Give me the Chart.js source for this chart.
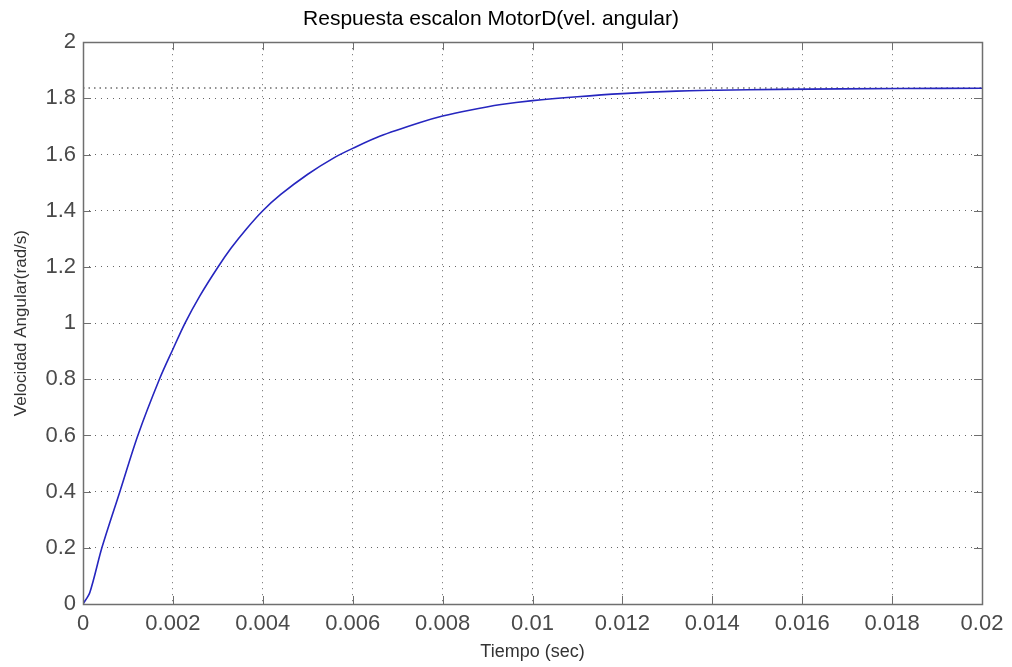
<!DOCTYPE html>
<html>
<head>
<meta charset="utf-8">
<title>Respuesta escalon MotorD</title>
<script src="https://cdn.jsdelivr.net/npm/chart.js@4"></script>
<style>
  body { margin: 0; background: #fff; }
  canvas { display: block; }
</style>
</head>
<body>
<canvas id="myChart" width="1012" height="667"></canvas>
<script>
// values
const tiempo = [0, 0.00015, 0.00042, 0.00082, 0.00122, 0.0017, 0.002,
  0.00227, 0.0026, 0.003, 0.0033, 0.00364, 0.004, 0.0044, 0.005, 0.0056, 0.006,
  0.0066, 0.0075, 0.008, 0.0086, 0.0093, 0.01, 0.011, 0.012, 0.0132, 0.0141,
  0.0155, 0.0182, 0.02];
const velocidad = [0, 0.04, 0.2, 0.4, 0.6, 0.8, 0.907,
  1.0, 1.097, 1.199, 1.268, 1.336, 1.4, 1.458, 1.53, 1.59, 1.622,
  1.665, 1.714, 1.737, 1.758, 1.778, 1.792, 1.806, 1.817, 1.826, 1.829,
  1.832, 1.835, 1.836];
const finalTiempo = [0, 0.02];
const finalValor = [1.837, 1.837];
const xTickLabels = ["0", "0.002", "0.004", "0.006", "0.008", "0.01", "0.012", "0.014", "0.016", "0.018", "0.02"];
const yTickLabels = ["0", "0.2", "0.4", "0.6", "0.8", "1", "1.2", "1.4", "1.6", "1.8", "2"];

const ctx = document.getElementById("myChart").getContext("2d");
const fontName = "'Liberation Sans', Arial, sans-serif";
const axisGray = "#6f6f6f";

// box round the axes and small ticks pointing inwards, like matlab
const boxPlugin = {
  id: "box",
  afterDraw(chart) {
    const { ctx, chartArea: a, scales } = chart;
    ctx.save();
    ctx.strokeStyle = axisGray;
    ctx.lineWidth = 1;
    ctx.beginPath();
    scales.x.ticks.forEach((t, i) => {
      const px = Math.round(scales.x.getPixelForTick(i)) + 0.5;
      ctx.moveTo(px, a.bottom); ctx.lineTo(px, a.bottom - 8);
      ctx.moveTo(px, a.top); ctx.lineTo(px, a.top + 8);
    });
    scales.y.ticks.forEach((t, i) => {
      const py = Math.round(scales.y.getPixelForTick(i)) + 0.5;
      ctx.moveTo(a.left, py); ctx.lineTo(a.left + 8, py);
      ctx.moveTo(a.right, py); ctx.lineTo(a.right - 8, py);
    });
    ctx.stroke();
    ctx.lineWidth = 1.5;
    ctx.strokeRect(Math.round(a.left) + 0.5, Math.round(a.top) + 0.5,
      Math.round(a.right - a.left), Math.round(a.bottom - a.top));
    ctx.restore();
  }
};

new Chart(ctx, {
  type: "line",
  data: {
    datasets: [
      {
        label: "MotorD",
        data: tiempo.map((t, i) => ({ x: t, y: velocidad[i] })),
        borderColor: "#2626bf",
        borderWidth: 1.6,
        pointRadius: 0,
        tension: 0.3,
        fill: false
      },
      {
        label: "final",
        data: finalTiempo.map((t, i) => ({ x: t, y: finalValor[i] })),
        borderColor: "#222",
        borderWidth: 1.2,
        borderDash: [1.5, 4],
        pointRadius: 0,
        fill: false
      }
    ]
  },
  options: {
    responsive: false,
    animation: false,
    layout: { padding: { left: 0, right: 30, top: 0, bottom: 0 } },
    plugins: {
      legend: { display: false },
      tooltip: { enabled: false },
      title: {
        display: true,
        text: "Respuesta escalon MotorD(vel. angular)",
        color: "#000",
        font: { family: fontName, size: 21, weight: "normal" },
        padding: { top: 7, bottom: 10 }
      }
    },
    scales: {
      x: {
        type: "linear",
        min: 0,
        max: 0.02,
        afterFit: (s) => { s.height = 63; },
        border: { display: false, dash: [1, 5] },
        grid: { color: "rgba(0,0,0,0.6)", drawTicks: false },
        ticks: {
          stepSize: 0.002,
          padding: 7,
          maxRotation: 0,
          autoSkip: false,
          color: "#4a4a4a",
          font: { family: fontName, size: 22 },
          callback: (v, i) => xTickLabels[i]
        },
        title: {
          display: true,
          text: "Tiempo (sec)",
          color: "#333",
          font: { family: fontName, size: 18 },
          padding: { top: 0, bottom: 4 }
        }
      },
      y: {
        min: 0,
        max: 2,
        afterFit: (s) => { s.width = 83; },
        border: { display: false, dash: [1, 5] },
        grid: { color: "rgba(0,0,0,0.6)", drawTicks: false },
        ticks: {
          stepSize: 0.2,
          padding: 7,
          color: "#4a4a4a",
          font: { family: fontName, size: 22 },
          callback: (v, i) => yTickLabels[i]
        },
        title: {
          display: true,
          text: "Velocidad Angular(rad/s)",
          color: "#333",
          font: { family: fontName, size: 17 },
          padding: { top: 11, bottom: 0 }
        }
      }
    }
  },
  plugins: [boxPlugin]
});
</script>
</body>
</html>
